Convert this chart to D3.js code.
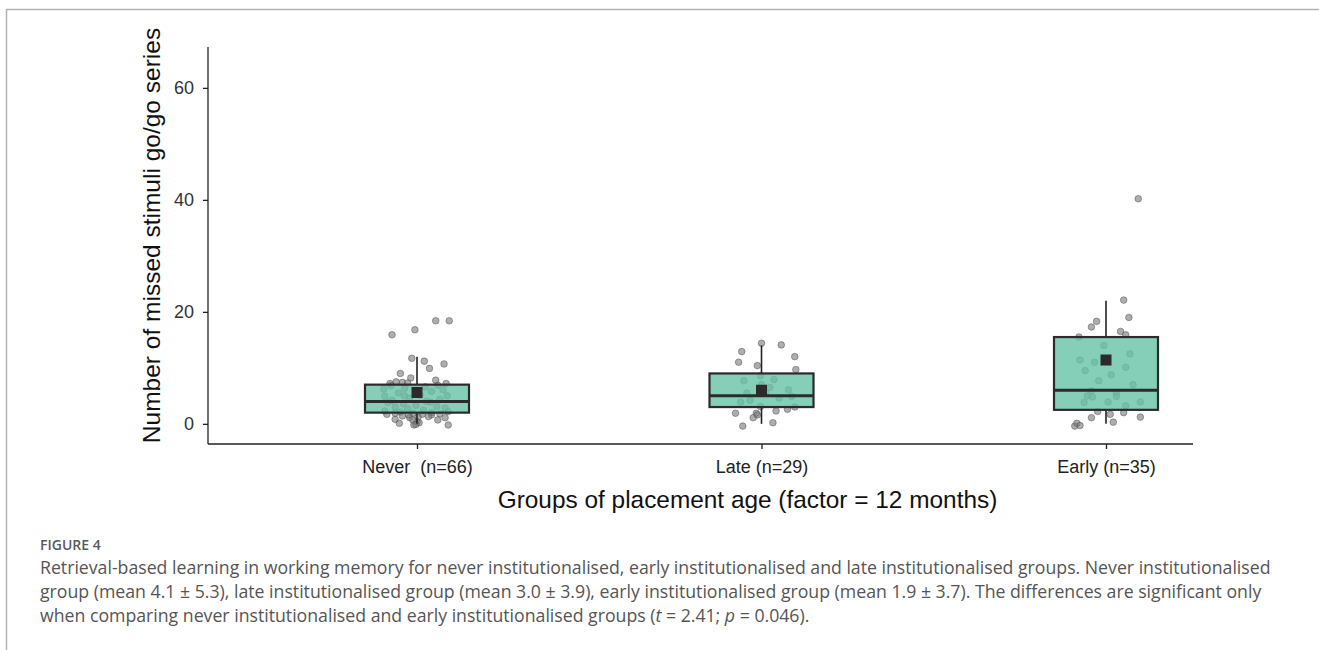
<!DOCTYPE html>
<html>
<head>
<meta charset="utf-8">
<script src="https://cdn.jsdelivr.net/npm/d3@7"></script>
<style>
  html, body { margin: 0; padding: 0; background: #fff; }
  svg { display: block; }
</style>
</head>
<body>
<svg id="fig" width="1319" height="650"></svg>
<script>
// ---- data ----
const categories = ["Never", "Late", "Early"];
const categoryLabels = ["Never  (n=66)", "Late (n=29)", "Early (n=35)"];
const yTicks = [0, 20, 40, 60];

// box summaries: lower whisker, Q1, median, Q3, upper whisker, mean
const whiskerLow = [0, 0, 0];
const q1 = [2, 3, 2.5];
const median = [4, 5, 6];
const q3 = [7, 9, 15.5];
const whiskerHigh = [12, 14, 22];
const means = [5.6, 6.0, 11.4];

// individual observations (jittered values) and horizontal jitter (fraction of box width)
const neverValues = [18.4, 18.4, 15.9, 16.8, 11.7, 11.2, 10.7, 9.9, 9.0, 8.2, 7.8, 7.2, 7.5, 7.2, 7.4, 7.3,
  6.2, 6.1, 6.3, 6.6, 5.8, 5.5, 4.9, 4.4, 4.2, 4.6, 5.1, 5.0, 3.8, 3.6, 3.9, 3.3, 3.1, 3.0, 2.8, 2.7,
  2.4, 2.3, 2.1, 2.0, 1.9, 2.2, 6.8, 6.9, 4.0, 5.0, 1.7, 0.8, 0.1, 1.1, -0.2, 0.4, 1.7, 1.6, 0.7, 1.1,
  -0.2, 1.6, 0.7, 1.2, 1.3, 1.8, 1.4, 0.2, -0.1, 1.9];
const neverJitter = [0.18, 0.31, -0.24, -0.02, -0.05, 0.07, 0.26, 0.12, -0.16, -0.06, 0.18, 0.28, -0.20, -0.26, -0.14, -0.09,
  -0.32, 0.25, -0.12, 0.08, 0.14, -0.18, -0.31, 0.22, -0.24, -0.07, 0.03, 0.29, -0.28, -0.13, 0.13, -0.01, 0.19, -0.21, 0.27, -0.09,
  0.06, -0.31, -0.16, 0.14, -0.04, 0.30, -0.25, 0.20, 0.09, -0.12, -0.29, -0.21, -0.17, -0.07, -0.03, 0.00, 0.05, 0.14, 0.20, 0.27,
  0.30, -0.08, -0.04, 0.01, 0.11, 0.22, -0.14, 0.02, -0.01, -0.21];

const lateValues = [14.4, 14.1, 12.9, 12.0, 11.0, 10.4, 9.7, 8.6, 7.7, 7.9, 6.1, 5.5, 4.6, 3.9, 3.1, 3.0,
  2.6, 2.3, 1.9, 1.9, 1.1, 1.6, 0.2, -0.4, 7.0, 6.5, 4.2, 4.9, 5.6];
const lateJitter = [0.00, 0.19, -0.19, 0.32, -0.22, -0.04, 0.33, -0.01, -0.17, 0.12, 0.26, -0.14, 0.17, -0.20, -0.01, 0.32,
  0.25, 0.14, -0.25, -0.05, -0.08, -0.04, 0.11, -0.18, 0.00, 0.08, -0.11, 0.29, 0.04];

const earlyValues = [40.2, 22.1, 19.0, 18.3, 17.3, 16.5, 15.9, 15.5, 14.0, 11.4, 11.0, 10.1, 8.75, 7.7, 5.9, 5.6,
  5.0, 4.8, 4.9, 3.8, 3.9, 3.9, 3.2, 2.2, 1.7, 2.0, 1.1, 1.2, 0.3, -0.4, 0.1, -0.3, 12.5, 9.5, 7.0];
const earlyJitter = [0.31, 0.17, 0.22, -0.09, -0.14, 0.14, 0.19, -0.26, -0.02, -0.25, -0.11, 0.19, 0.05, -0.07, -0.14, 0.10,
  -0.18, -0.13, 0.10, -0.21, 0.02, 0.33, 0.19, -0.08, 0.04, 0.17, -0.14, 0.33, 0.07, -0.30, -0.28, -0.25, 0.23, -0.20, 0.26];

const groupValues = [neverValues, lateValues, earlyValues];
const groupJitter = [neverJitter, lateJitter, earlyJitter];

const yTitle = "Number of missed stimuli go/go series";
const xTitle = "Groups of placement age (factor = 12 months)";
const figureLabel = "FIGURE 4";
// caption lines as runs of [text, italic]
const captionLines = [
  [["Retrieval-based learning in working memory for never institutionalised, early institutionalised and late institutionalised groups. Never institutionalised", false]],
  [["group (mean 4.1 \u00B1 5.3), late institutionalised group (mean 3.0 \u00B1 3.9), early institutionalised group (mean 1.9 \u00B1 3.7). The differences are significant only", false]],
  [["when comparing never institutionalised and early institutionalised groups (", false], ["t", true], [" = 2.41; ", false], ["p", true], [" = 0.046).", false]]
];

// ---- layout ----
const svg = d3.select("#fig");
const axisLeft = 208, axisRight = 1193, axisTop = 47, axisBottom = 444;
const boxWidth = 104;
const chartFont = "'Liberation Sans', Arial, Helvetica, sans-serif";

const y = d3.scaleLinear().domain([-3.6, 67.3]).range([axisBottom, axisTop]);
const x = d3.scalePoint().domain(categories).range([417, 1106]);

// figure frame
svg.append("line").attr("x1", 6).attr("x2", 1319).attr("y1", 9.5).attr("y2", 9.5)
  .attr("stroke", "#b3b3b3").attr("stroke-width", 1.5);
svg.append("line").attr("x1", 6.5).attr("x2", 6.5).attr("y1", 9).attr("y2", 650)
  .attr("stroke", "#b3b3b3").attr("stroke-width", 1.5);

// y axis
const yAxis = svg.append("g").attr("transform", `translate(${axisLeft},0)`)
  .call(d3.axisLeft(y).tickValues(yTicks).tickSize(5).tickPadding(9));
yAxis.select(".domain").attr("d", `M0,${axisTop}V${axisBottom}`).attr("stroke", "#222").attr("stroke-width", 1.3);
yAxis.selectAll(".tick line").attr("stroke", "#222").attr("stroke-width", 1.3);
yAxis.selectAll(".tick text").attr("font-family", chartFont).attr("font-size", 18).attr("fill", "#333");

// x axis
const xAxis = svg.append("g").attr("transform", `translate(0,${axisBottom})`)
  .call(d3.axisBottom(x).tickSize(5).tickPadding(11).tickFormat((d, i) => categoryLabels[i]));
xAxis.select(".domain").attr("d", `M${axisLeft},0H${axisRight}`).attr("stroke", "#222").attr("stroke-width", 1.3);
xAxis.selectAll(".tick line").attr("stroke", "#222").attr("stroke-width", 1.3);
xAxis.selectAll(".tick text").attr("font-family", chartFont).attr("font-size", 18).attr("fill", "#222")
  .style("white-space", "pre");

// axis titles
svg.append("text").attr("transform", `translate(160,${(axisTop + axisBottom) / 2 - 10}) rotate(-90)`)
  .attr("text-anchor", "middle").attr("font-family", chartFont).attr("font-size", 24.5).attr("fill", "#111")
  .text(yTitle);
svg.append("text").attr("x", 747.5).attr("y", 508)
  .attr("text-anchor", "middle").attr("font-family", chartFont).attr("font-size", 24.4).attr("fill", "#111")
  .text(xTitle);

// jittered observations (drawn beneath the semi-transparent boxes)
const plot = svg.append("g");
categories.forEach((c, i) => {
  const pts = groupValues[i].map((v, j) => ({ v, jx: groupJitter[i][j] }));
  plot.append("g").selectAll("circle").data(pts).join("circle")
    .attr("cx", d => x(c) + d.jx * boxWidth)
    .attr("cy", d => y(d.v))
    .attr("r", 3.3)
    .attr("fill", "rgba(120,120,120,0.6)")
    .attr("stroke", "rgba(80,80,80,0.55)")
    .attr("stroke-width", 0.9);
});

// boxes
categories.forEach((c, i) => {
  const cx = x(c);
  const g = plot.append("g");
  g.append("line").attr("x1", cx).attr("x2", cx).attr("y1", y(whiskerHigh[i])).attr("y2", y(q3[i]))
    .attr("stroke", "#222").attr("stroke-width", 1.6);
  g.append("line").attr("x1", cx).attr("x2", cx).attr("y1", y(q1[i])).attr("y2", y(whiskerLow[i]))
    .attr("stroke", "#222").attr("stroke-width", 1.6);
  g.append("rect").attr("x", cx - boxWidth / 2).attr("width", boxWidth)
    .attr("y", y(q3[i])).attr("height", y(q1[i]) - y(q3[i]))
    .attr("fill", "#66c2a5").attr("fill-opacity", 0.8)
    .attr("stroke", "#2b2b2b").attr("stroke-width", 2.2);
  g.append("line").attr("x1", cx - boxWidth / 2).attr("x2", cx + boxWidth / 2)
    .attr("y1", y(median[i])).attr("y2", y(median[i]))
    .attr("stroke", "#2b2b2b").attr("stroke-width", 3);
  g.append("rect").attr("x", cx - 5.5).attr("y", y(means[i]) - 5.5)
    .attr("width", 11).attr("height", 11).attr("fill", "#2b2b2b");
});

// caption
svg.append("text").attr("x", 40).attr("y", 550)
  .attr("font-family", "'Open Sans', sans-serif").attr("font-size", 14).attr("font-weight", 600)
  .attr("fill", "#5a5a5a").text(figureLabel);
const cap = svg.append("g").attr("font-family", "'Open Sans', sans-serif").attr("font-size", 17.7).attr("fill", "#555");
captionLines.forEach((runs, i) => {
  const t = cap.append("text").attr("x", 40).attr("y", 574 + i * 24).style("white-space", "pre");
  runs.forEach(([txt, it]) => {
    t.append("tspan").attr("font-style", it ? "italic" : null).text(txt);
  });
});
</script>
</body>
</html>
